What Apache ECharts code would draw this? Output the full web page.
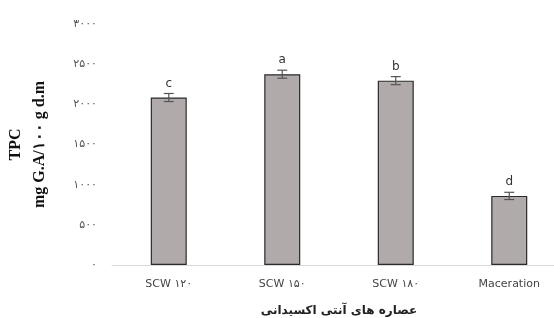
<!DOCTYPE html>
<html>
<head>
<meta charset="utf-8">
<script src="https://cdn.jsdelivr.net/npm/echarts@6/dist/echarts.min.js"></script>
<style>
  html, body { margin: 0; padding: 0; background: #fff; }
  #chart { width: 554px; height: 318px; }
</style>
</head>
<body>
<div id="chart"></div>
<script>
  // data
  var categories = ['SCW ۱۲۰', 'SCW ۱۵۰', 'SCW ۱۸۰', 'Maceration']
  var tpcValues = [2085, 2375, 2295, 860]
  var tpcErrors = [50, 50, 50, 45]
  var letters = ['c', 'a', 'b', 'd']
  var yTickLabels = ['۰', '۵۰۰', '۱۰۰۰', '۱۵۰۰', '۲۰۰۰', '۲۵۰۰', '۳۰۰۰']

  var chart = echarts.init(document.getElementById('chart'))

  var errData = tpcValues.map(function (v, i) {
    return [i, v, tpcErrors[i], letters[i]]
  })

  var option = {
    animation: false,
    backgroundColor: '#ffffff',
    // the plot runs past the right edge in the source image
    grid: { left: 112, top: 24, width: 454, height: 241, outerBoundsMode: 'none', containLabel: false },
    xAxis: {
      type: 'category',
      data: categories,
      name: 'عصاره های آنتی اکسیدانی',
      nameLocation: 'middle',
      nameGap: 40,
      nameTextStyle: { fontFamily: 'DejaVu Sans', fontWeight: 'bold', fontSize: 12, color: '#222' },
      axisLine: { lineStyle: { color: '#d9d9d9', width: 1 } },
      axisTick: { show: false },
      axisLabel: { margin: 14, fontFamily: 'DejaVu Sans', fontSize: 11, color: '#444' }
    },
    yAxis: {
      type: 'value',
      min: 0,
      max: 3000,
      interval: 500,
      name: 'TPC\nmg G.A/۱۰۰ g d.m',
      nameLocation: 'middle',
      nameRotate: 90,
      nameGap: 60,
      nameTextStyle: { fontFamily: 'Liberation Serif', fontWeight: 'bold', fontSize: 16, color: '#111', lineHeight: 24 },
      axisLine: { show: false },
      axisTick: { show: false },
      splitLine: { show: false },
      axisLabel: {
        margin: 15,
        fontFamily: 'DejaVu Sans',
        fontSize: 11,
        color: '#555',
        formatter: function (v) { return yTickLabels[v / 500] }
      }
    },
    series: [
      {
        type: 'bar',
        data: tpcValues,
        barWidth: 36,
        itemStyle: { color: '#b0abaa', borderColor: '#2b2b2b', borderWidth: 1.2 }
      },
      {
        type: 'custom',
        data: errData,
        z: 10,
        renderItem: function (params, api) {
          var x = api.value(0)
          var v = api.value(1)
          var e = api.value(2)
          var top = api.coord([x, v + e])
          var bot = api.coord([x, v - e])
          var hw = 5
          var st = { stroke: '#555', lineWidth: 1.2 }
          return {
            type: 'group',
            children: [
              { type: 'line', shape: { x1: top[0], y1: top[1], x2: bot[0], y2: bot[1] }, style: st },
              { type: 'line', shape: { x1: top[0] - hw, y1: top[1], x2: top[0] + hw, y2: top[1] }, style: st },
              { type: 'line', shape: { x1: bot[0] - hw, y1: bot[1], x2: bot[0] + hw, y2: bot[1] }, style: st },
              {
                type: 'text',
                style: {
                  x: top[0], y: top[1] - 4,
                  text: api.value(3),
                  align: 'center', verticalAlign: 'bottom',
                  fontFamily: 'DejaVu Sans', fontSize: 12, fill: '#333'
                }
              }
            ]
          }
        }
      }
    ]
  }

  chart.setOption(option)
</script>
</body>
</html>
